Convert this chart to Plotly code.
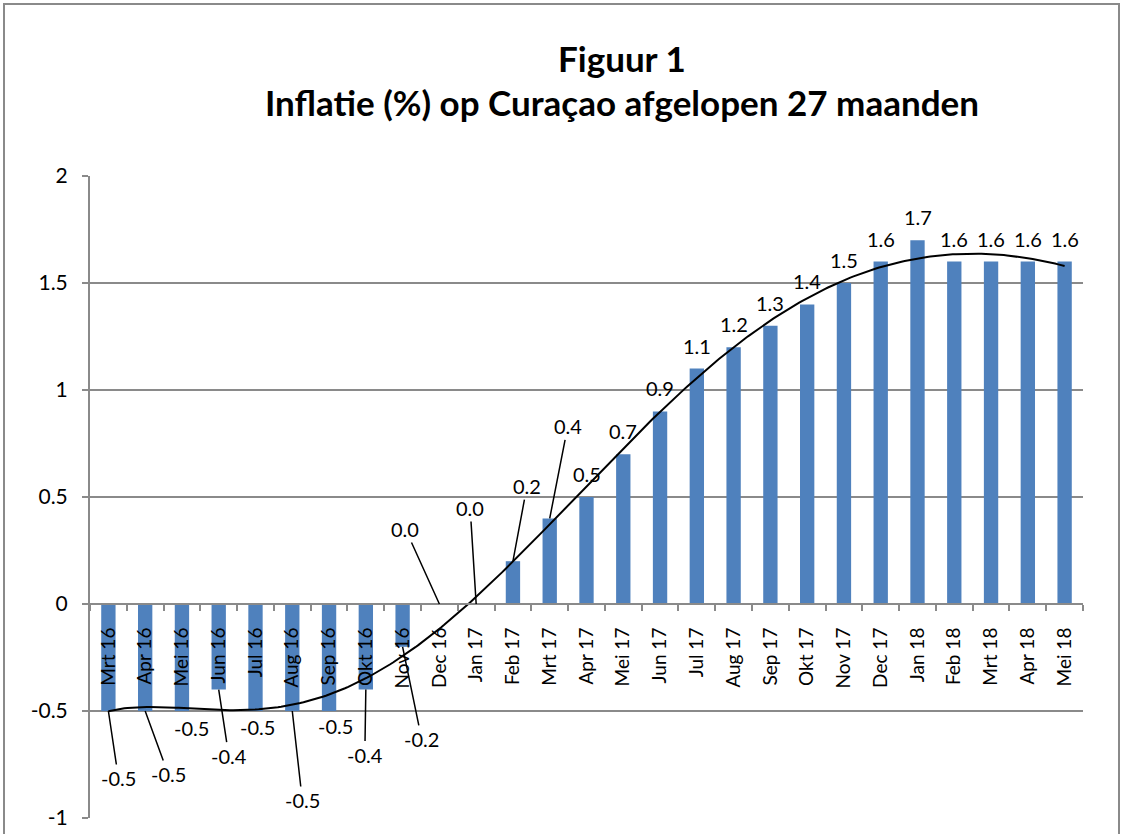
import numpy as np
import plotly.graph_objects as go

months = ["Mrt 16", "Apr 16", "Mei 16", "Jun 16", "Jul 16", "Aug 16", "Sep 16", "Okt 16", "Nov 16",
          "Dec 16", "Jan 17", "Feb 17", "Mrt 17", "Apr 17", "Mei 17", "Jun 17", "Jul 17", "Aug 17",
          "Sep 17", "Okt 17", "Nov 17", "Dec 17", "Jan 18", "Feb 18", "Mrt 18", "Apr 18", "Mei 18"]
inflation = [-0.5, -0.5, -0.5, -0.4, -0.5, -0.5, -0.5, -0.4, -0.2,
             0.0, 0.0, 0.2, 0.4, 0.5, 0.7, 0.9, 1.1, 1.2,
             1.3, 1.4, 1.5, 1.6, 1.7, 1.6, 1.6, 1.6, 1.6]
y_ticks = [-1, -0.5, 0, 0.5, 1, 1.5, 2]
y_tick_text = ["-1", "-0.5", "0", "0.5", "1", "1.5", "2"]
title_lines = ["Figuur 1", "Inflatie (%) op Curaçao afgelopen 27 maanden"]
trend_order = 6  # Excel polynomial trendline order

# label placement (pixel offsets of label centre from bar end) and leader-line flags
label_dx = [10, 23, 10, 10, 2, 10, 6, -1, 19, -34, -6, 14, 18] + [0] * 14
label_dy = [67, 63, 17, 66, 16, 89, 15, 65, 92, -75, -96, -75, -92] + [-23] * 14
leader = [True, True, False, True, False, True, False, True, True, True, True, True, True] + [False] * 14

W, H = 1125, 834
ML, MR, MT, MB = 90, 42, 176, 16
PW, PH = W - ML - MR, H - MT - MB

idx = np.arange(len(months))

fig = go.Figure()
fig.add_trace(go.Bar(x=idx, y=inflation, width=0.39, marker=dict(color="#4F81BD", line=dict(width=0)),
                     showlegend=False, hoverinfo="skip"))

xs = np.linspace(0, len(months) - 1, 300)
coef = np.polyfit(idx + 1, inflation, trend_order)
fig.add_trace(go.Scatter(x=xs, y=np.polyval(coef, xs + 1), mode="lines",
                         line=dict(color="black", width=2), showlegend=False, hoverinfo="skip"))

FONT = "Lato, 'Liberation Sans', sans-serif"
for i, v in enumerate(inflation):
    txt = "%.1f" % v
    if txt == "-0.0":
        txt = "0.0"
    if leader[i]:
        fig.add_annotation(x=i, y=v, text=txt, showarrow=True, arrowhead=0, arrowwidth=1.5,
                           arrowcolor="black", ax=label_dx[i], ay=label_dy[i], standoff=0,
                           font=dict(family=FONT, size=20, color="black"))
    else:
        fig.add_annotation(x=i, y=v, text=txt, showarrow=False, xshift=label_dx[i], yshift=-label_dy[i],
                           font=dict(family=FONT, size=20, color="black"))

# title
for line, py in zip(title_lines, [58, 102]):
    fig.add_annotation(xref="paper", yref="paper", x=(622 - ML) / PW, y=(H - MB - py) / PH,
                       text="<b>%s</b>" % line, showarrow=False, xanchor="center", yanchor="middle",
                       font=dict(family=FONT, size=35, color="black"))

# outer chart border
fig.add_shape(type="rect", xref="paper", yref="paper",
              x0=(4 - ML) / PW, x1=(1119 - ML) / PW, y0=(H - MB - 845) / PH, y1=(H - MB - 4) / PH,
              line=dict(color="#8a8a8a", width=2), fillcolor="rgba(0,0,0,0)", layer="below")

fig.update_layout(
    width=W, height=H, margin=dict(l=ML, r=MR, t=MT, b=MB, autoexpand=False),
    paper_bgcolor="white", plot_bgcolor="white",
    xaxis=dict(range=[-0.5, len(months) - 0.5], tickvals=list(idx), ticktext=months, tickangle=-90,
               ticks="", showgrid=False, zeroline=False, showline=True, linecolor="#8a8a8a", linewidth=2,
               anchor="free", position=(0 - (-1)) / 3, automargin=False, ticklabelstandoff=15,
               tickfont=dict(family=FONT, size=19, color="black"),
               minor=dict(ticks="outside", tick0=0.5, dtick=1, ticklen=6, tickcolor="#8a8a8a", tickwidth=2,
                          showgrid=False)),
    yaxis=dict(range=[-1, 2], tickvals=y_ticks, ticktext=y_tick_text, showgrid=True, gridcolor="#8a8a8a",
               gridwidth=2, zeroline=False, showline=True, linecolor="#8a8a8a", linewidth=2,
               ticks="outside", ticklen=6, tickcolor="#8a8a8a", tickwidth=2, automargin=False,
               ticklabelstandoff=10,
               tickfont=dict(family=FONT, size=21, color="black")),
)

fig.write_html("out.html", config={"displayModeBar": False},
               post_script="document.body.style.margin='0';")
